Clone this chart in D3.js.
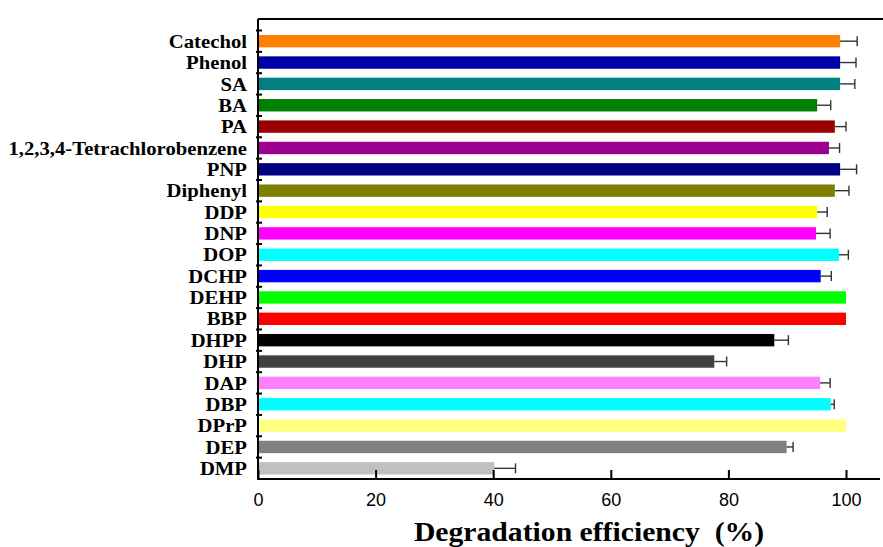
<!DOCTYPE html>
<html>
<head>
<meta charset="utf-8">
<script src="https://cdn.jsdelivr.net/npm/d3@7/dist/d3.min.js"></script>
<style>
  html, body { margin: 0; padding: 0; background: #fff; }
  svg { display: block; }
</style>
</head>
<body>
<svg id="chart" width="883" height="547"></svg>
<script>
// Substrates, top to bottom
const categories = [
  "Catechol", "Phenol", "SA", "BA", "PA", "1,2,3,4-Tetrachlorobenzene", "PNP",
  "Diphenyl", "DDP", "DNP", "DOP", "DCHP", "DEHP", "BBP", "DHPP", "DHP",
  "DAP", "DBP", "DPrP", "DEP", "DMP"
];
// Degradation efficiency (%)
const efficiency = [
  99.0, 99.0, 99.0, 95.1, 98.1, 97.1, 99.0,
  98.1, 95.1, 94.9, 98.8, 95.7, 100.0, 100.0, 87.8, 77.6,
  95.6, 97.4, 100.0, 89.9, 40.2
];
// Standard deviation (one-sided error bars)
const errors = [
  2.9, 2.7, 2.5, 2.3, 1.9, 1.8, 2.8,
  2.4, 1.7, 2.4, 1.6, 1.8, 0, 0, 2.4, 2.1,
  1.7, 0.6, 0, 1.1, 3.6
];
const barColors = [
  "#FF8000", "#0000A8", "#008080", "#008000", "#990000", "#990090", "#000080",
  "#808000", "#FFFF00", "#FF00FF", "#00FFFF", "#0000FF", "#00FF00", "#FF0000", "#000000", "#404040",
  "#FF80FF", "#00FFFF", "#FFFF80", "#808080", "#C0C0C0"
];
const xTicks = [0, 20, 40, 60, 80, 100];

const svg = d3.select("#chart");
const plotLeft = 258, plotRight = 880, plotTop = 19, plotBottom = 479;
const bandTop = 30.5;

const x = d3.scaleLinear().domain([0, 100]).range([plotLeft, 846]);
const y = d3.scaleBand().domain(categories).range([bandTop, plotBottom]).paddingInner(0.42).paddingOuter(0.21);

// Bars
svg.append("g").selectAll("rect")
  .data(categories)
  .join("rect")
  .attr("x", x(0))
  .attr("y", d => y(d))
  .attr("width", (d, i) => x(efficiency[i]) - x(0))
  .attr("height", y.bandwidth())
  .attr("fill", (d, i) => barColors[i]);

// Error bars (positive side)
const eg = svg.append("g").attr("stroke", "#333").attr("stroke-width", 1.4);
categories.forEach((c, i) => {
  if (!errors[i]) return;
  const cy = y(c) + y.bandwidth() / 2;
  const x0 = x(efficiency[i]), x1 = x(efficiency[i] + errors[i]);
  eg.append("line").attr("x1", x0).attr("x2", x1).attr("y1", cy).attr("y2", cy);
  eg.append("line").attr("x1", x1).attr("x2", x1).attr("y1", cy - 5).attr("y2", cy + 5);
});

// Frame lines
svg.append("line").attr("x1", plotLeft).attr("x2", 883).attr("y1", plotTop).attr("y2", plotTop)
  .attr("stroke", "#000").attr("stroke-width", 2);
svg.append("line").attr("x1", plotLeft).attr("x2", plotLeft).attr("y1", plotTop).attr("y2", plotBottom + 1)
  .attr("stroke", "#000").attr("stroke-width", 2);
svg.append("line").attr("x1", plotLeft - 1).attr("x2", plotRight).attr("y1", plotBottom).attr("y2", plotBottom)
  .attr("stroke", "#000").attr("stroke-width", 2);

// Bottom axis
const xAxis = d3.axisBottom(x).tickValues(xTicks).tickSize(-9).tickPadding(14).tickFormat(d3.format("d"));
const gx = svg.append("g").attr("transform", `translate(0,${plotBottom})`).call(xAxis);
gx.select(".domain").remove();
gx.selectAll(".tick line").attr("stroke", "#000").attr("stroke-width", 2);
gx.selectAll(".tick text")
  .attr("font-family", "'Liberation Sans', Arial, sans-serif")
  .attr("font-size", 18).attr("fill", "#000");

// Category ticks at band boundaries
const boundaries = categories.map((c, i) => bandTop + i * (plotBottom - bandTop) / categories.length);
svg.append("g").selectAll("line")
  .data(boundaries)
  .join("line")
  .attr("x1", plotLeft - 2).attr("x2", plotLeft + 4)
  .attr("y1", d => d).attr("y2", d => d)
  .attr("stroke", "#000").attr("stroke-width", 2);

// Category labels (slightly widened serif)
svg.append("g").selectAll("text")
  .data(categories)
  .join("text")
  .attr("transform", d => `translate(247,${y(d) + y.bandwidth() / 2}) scale(1.09,1)`)
  .attr("dy", "0.35em")
  .attr("text-anchor", "end")
  .attr("font-family", "'Liberation Serif', 'Times New Roman', serif")
  .attr("font-weight", "bold")
  .attr("font-size", 19)
  .attr("fill", "#000")
  .text(d => d);

// Axis title
svg.append("text")
  .attr("transform", "translate(589,541) scale(1.06,1)")
  .attr("text-anchor", "middle")
  .attr("font-family", "'Liberation Serif', 'Times New Roman', serif")
  .attr("font-weight", "bold")
  .attr("font-size", 28)
  .attr("fill", "#000")
  .style("white-space", "pre")
  .text("Degradation efficiency  (%)");
</script>
</body>
</html>
